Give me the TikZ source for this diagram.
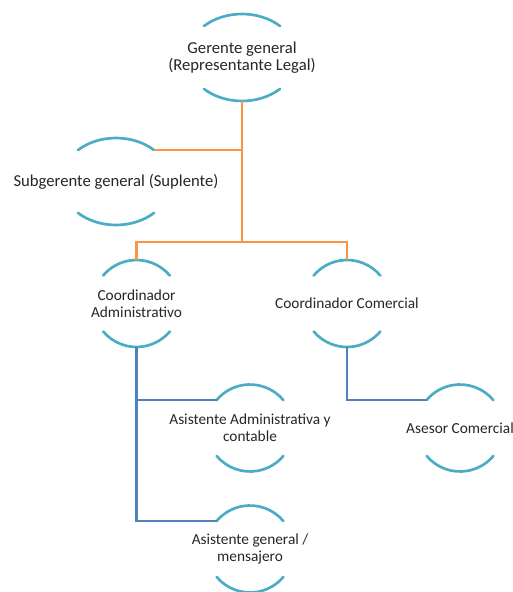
\documentclass[tikz,border=0pt]{standalone}
\usepackage{fontspec}
\setmainfont{Carlito}
\usetikzlibrary{calc}

\definecolor{arcblue}{HTML}{4BACC6}
\definecolor{linkorange}{HTML}{F79646}
\definecolor{linkblue}{HTML}{4F81BD}
\definecolor{labelgray}{HTML}{262626}

\tikzset{
  label text/.style={align=center, text=labelgray, inner sep=0pt,
    font=\fontsize{11.5}{12.8}\selectfont},
  large label/.style={font=\fontsize{12.5}{12.8}\selectfont},
  arc stroke/.style={draw=arcblue, line width=2pt, line cap=round},
  upper link/.style={draw=linkorange, line width=1.6pt},
  lower link/.style={draw=linkblue, line width=1.6pt},
}

% #1 name, #2 node options, #3 x, #4 y, #5 x radius, #6 y radius,
% #7 half span of each arc measured from the vertical (degrees), #8 label
\newcommand{\arcnode}[8]{%
  \node[label text,#2] (#1) at (#3,#4) {#8};
  \coordinate (#1-n) at ($(#1.center)+(0,#6)$);
  \coordinate (#1-s) at ($(#1.center)+(0,-#6)$);
  \draw[arc stroke] ($(#1.center)+({90-#7}:#5 and #6)$) coordinate (#1-tr)
    arc[start angle={90-#7}, end angle={90+#7}, x radius=#5, y radius=#6]
    coordinate (#1-tl);
  \draw[arc stroke] ($(#1.center)+({270-#7}:#5 and #6)$) coordinate (#1-bl)
    arc[start angle={270-#7}, end angle={270+#7}, x radius=#5, y radius=#6]
    coordinate (#1-br);
}

\begin{document}
\begin{tikzpicture}[x=0.75pt, y=0.75pt]
  \useasboundingbox (0,0) rectangle (512,-592);

  \arcnode{gerente}{large label}{242}{-57.5}{55}{43.5}{43.7}{Gerente general\\(Representante Legal)}
  \arcnode{subgerente}{large label}{116}{-181.5}{55}{43.5}{43.7}{Subgerente general (Suplente)}
  \arcnode{coordadm}{}{136.5}{-303.5}{43.5}{43.5}{50}{Coordinador\\Administrativo}
  \arcnode{coordcom}{}{347}{-303.5}{43.5}{43.5}{50}{Coordinador Comercial}
  \arcnode{asistadm}{}{250}{-428}{43.5}{43.5}{50}{Asistente Administrativa y\\contable}
  \arcnode{asesor}{}{460}{-428}{43.5}{43.5}{50}{Asesor Comercial}
  \arcnode{asistgen}{}{250}{-549}{43.5}{43.5}{50}{Asistente general /\\mensajero}

  % management links
  \coordinate (bus) at (242,-242);
  \draw[upper link] (gerente-s) -- (gerente-s |- bus);
  \draw[upper link] (subgerente-tr) -- (subgerente-tr -| gerente-s);
  \draw[upper link] (coordadm-n) |- (bus) -| (coordcom-n);

  % staff links
  \draw[lower link] (coordadm-s) |- (asistadm-tl);
  \draw[lower link] (coordadm-s) |- (asistgen-tl);
  \draw[lower link] (coordcom-s) |- (asesor-tl);
\end{tikzpicture}
\end{document}
